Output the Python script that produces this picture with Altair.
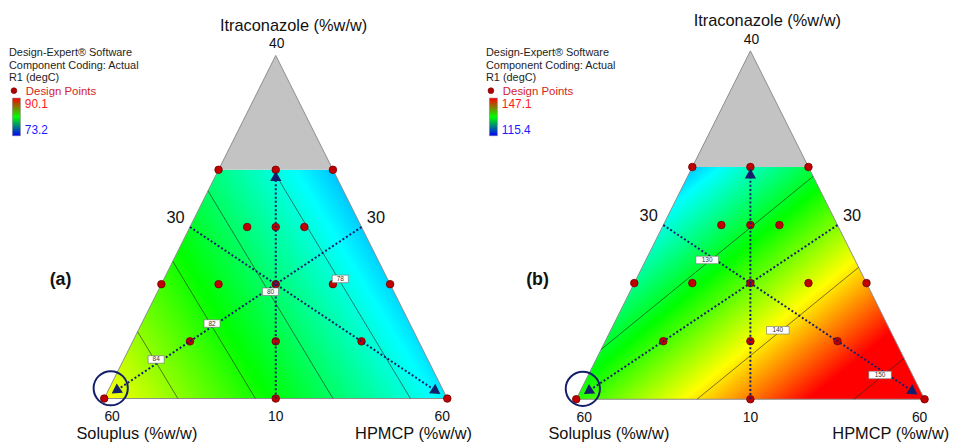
import altair as alt
import numpy as np
import pandas as pd

# ------------------------------------------------------------------ data
PANELS = ["(a)", "(b)"]
COMPONENT_LOW = [30, 30, 10]          # Soluplus, HPMCP, Itraconazole (%w/w)
ITRA_LIMIT = 30                       # upper constraint -> grey region above it

SOLUPLUS = [60, 30, 45, 40, 35, 30, 40, 37.5, 35, 50, 45, 40, 35, 30, 50, 42.5, 35]
HPMCP = [30, 60, 45, 30, 35, 40, 35, 37.5, 40, 30, 35, 40, 45, 50, 35, 42.5, 50]
ITRACONAZOLE = [10, 10, 10, 30, 30, 30, 25, 25, 25, 20, 20, 20, 20, 20, 15, 15, 15]

# predicted R1 (degC) of the linear mixture surface at the pseudo vertices (Soluplus, HPMCP, Itraconazole)
R1_AT_VERTICES = {"(a)": [85.9, 77.05, 76.15], "(b)": [132.3, 154.5, 116.2]}
CONTOUR_LEVELS = {"(a)": [84, 82, 80, 78], "(b)": [130, 140, 150]}
R1_RANGE = {"(a)": [73.2, 90.1], "(b)": [115.4, 147.1]}

LEGEND_LINES = ["Design-Expert® Software", "Component Coding: Actual", "R1 (degC)"]
LEGEND_POINTS = "Design Points"
AXIS_TITLES = ["Soluplus (%w/w)", "HPMCP (%w/w)", "Itraconazole (%w/w)"]
VERTEX_TICKS = ["60", "60", "40"]
BASE_TICK = "10"
SIDE_TICK = "30"

# ------------------------------------------------------------------ layout (page pixel frame)
FRAME = {
    "(a)": {"BL": (105.0, 400.0), "BR": (451.0, 400.0), "AP": (278.0, 54.0), "legend_x": 9.0, "tag": (61.0, 281.0)},
    "(b)": {"BL": (581.0, 400.7), "BR": (932.3, 400.7), "AP": (756.65, 49.4), "legend_x": 490.0, "tag": (542.0, 281.0)},
}
LABEL_FRAC = {"(a)": [0.54, 0.525, 0.5, 0.51], "(b)": [0.5, 0.5, 0.52]}
# pseudo-component traces: start, end, arrow position (fraction of the way)
TRACES = [((0.5, 0.5, 0.0), (1 / 6, 1 / 6, 2 / 3), 0.972),
          ((0.5, 0.0, 0.5), (0.0, 1.0, 0.0), 0.957),
          ((0.0, 0.5, 0.5), (1.0, 0.0, 0.0), 0.955)]
CIRCLE_AT = (0.966, 0.004, 0.03)

FONT = "Liberation Sans"
NAVY = "#141f6b"
CMAP = [(0, 0, 255), (0, 255, 255), (0, 255, 0), (255, 255, 0), (255, 0, 0)]

XS = alt.Scale(domain=[8, 965], nice=False, zero=False)
YS = alt.Scale(domain=[444, 8], nice=False, zero=False)


def X(f):
    return alt.X(f"{f}:Q", scale=XS, axis=None)


def Y(f):
    return alt.Y(f"{f}:Q", scale=YS, axis=None)


R = 100 - sum(COMPONENT_LOW)
AMAX = (ITRA_LIMIT - COMPONENT_LOW[2]) / R


def to_xy(panel, p):
    f = FRAME[panel]
    s, h, a = p
    return (s * f["BL"][0] + h * f["BR"][0] + a * f["AP"][0],
            s * f["BL"][1] + h * f["BR"][1] + a * f["AP"][1])


def kscale(panel):
    f = FRAME[panel]
    return (f["BR"][0] - f["BL"][0]) / 346.0


def cmap(t):
    t = min(max(t, 0.0), 1.0) * 4
    i = min(int(t), 3)
    fr = t - i
    c = [round(CMAP[i][k] + (CMAP[i + 1][k] - CMAP[i][k]) * fr) for k in range(3)]
    return "#%02x%02x%02x" % tuple(c)


CORNERS = [(1, 0, 0), (0, 1, 0), (0, 1 - AMAX, AMAX), (1 - AMAX, 0, AMAX)]


def surface_fill(panel):
    coef = R1_AT_VERTICES[panel]
    lo, hi = R1_RANGE[panel]
    pts = np.array([to_xy(panel, c) for c in CORNERS])
    x0, y0 = pts.min(0)
    x1, y1 = pts.max(0)
    W, H = x1 - x0, y1 - y0
    M = np.array([[1.0, *to_xy(panel, v)] for v in [(1, 0, 0), (0, 1, 0), (0, 0, 1)]])
    c0, cx, cy = np.linalg.solve(M, np.array(coef, float))
    gu, gv = cx * W, cy * H
    n = float(np.hypot(gu, gv))
    du, dv = gu / n, gv / n
    proj = [du * u + dv * v for u in (0, 1) for v in (0, 1)]
    pmin, pmax = min(proj), max(proj)
    v00 = c0 + cx * x0 + cy * y0
    vmin, vmax = v00 + n * pmin, v00 + n * pmax
    offs = {0.0, 1.0}
    for k in range(5):
        vk = lo + k / 4 * (hi - lo)
        o = (vk - vmin) / (vmax - vmin)
        if 0 < o < 1:
            offs.add(float(o))
    stops = [alt.GradientStop(offset=float(o), color=cmap((vmin + o * (vmax - vmin) - lo) / (hi - lo)))
             for o in sorted(offs)]
    return alt.LinearGradient(gradient="linear", stops=stops,
                              x1=float(pmin * du), y1=float(pmin * dv),
                              x2=float(pmax * du), y2=float(pmax * dv))


def value(panel, p):
    return float(np.dot(R1_AT_VERTICES[panel], p))


layers = []

# ---------------- response surface (linear gradient) + grey infeasible region
for panel in PANELS:
    bl, br = to_xy(panel, CORNERS[0]), to_xy(panel, CORNERS[1])
    tr, tl = to_xy(panel, CORNERS[2]), to_xy(panel, CORNERS[3])
    ap = to_xy(panel, (0, 0, 1))
    trap = pd.DataFrame({"y": [bl[1], tl[1]], "x": [bl[0], tl[0]], "x2": [br[0], tr[0]]})
    layers.append(alt.Chart(trap).mark_area(orient="horizontal", fill=surface_fill(panel), opacity=1)
                  .encode(y=Y("y"), x=X("x"), x2=alt.X2("x2")))
    grey = pd.DataFrame({"y": [tl[1], ap[1]], "x": [tl[0], ap[0]], "x2": [tr[0], ap[0]]})
    layers.append(alt.Chart(grey).mark_area(orient="horizontal", fill="#c3c3c3", opacity=1)
                  .encode(y=Y("y"), x=X("x"), x2=alt.X2("x2")))

# ---------------- triangle outline
rows = []
for panel in PANELS:
    for i, v in enumerate([(1, 0, 0), (0, 1, 0), (0, 0, 1), (1, 0, 0)]):
        x, y = to_xy(panel, v)
        rows.append({"panel": panel, "i": i, "x": x, "y": y})
layers.append(alt.Chart(pd.DataFrame(rows)).mark_line(color="#8c8c8c", strokeWidth=1)
              .encode(x=X("x"), y=Y("y"), detail="panel:N", order="i:Q"))

# ---------------- contour lines and their labels
crows, lrows = [], []
for panel in PANELS:
    for lev, frac in zip(CONTOUR_LEVELS[panel], LABEL_FRAC[panel]):
        pts = []
        for j in range(4):
            P, Q = CORNERS[j], CORNERS[(j + 1) % 4]
            vp, vq = value(panel, P), value(panel, Q)
            if (vp - lev) * (vq - lev) < 0:
                t = (lev - vp) / (vq - vp)
                pts.append(to_xy(panel, tuple(P[k] + t * (Q[k] - P[k]) for k in range(3))))
        pts.sort(key=lambda q: -q[1])
        (xa, ya), (xb, yb) = pts[0], pts[1]
        crows.append({"x": xa, "y": ya, "x2": xb, "y2": yb})
        lx, ly = xa + frac * (xb - xa), ya + frac * (yb - ya) - 3.0
        hw = 3.3 * len(str(lev)) + 1.5
        lrows.append({"x": lx - hw, "x2": lx + hw, "y": ly - 3.8, "y2": ly + 3.8,
                      "cx": lx, "cy": ly, "label": str(lev)})
layers.append(alt.Chart(pd.DataFrame(crows)).mark_rule(color="#222222", strokeWidth=0.7, opacity=0.85)
              .encode(x=X("x"), y=Y("y"), x2=alt.X2("x2"), y2=alt.Y2("y2")))

# ---------------- design points
drows = []
for panel in PANELS:
    for s_, h_, i_ in zip(SOLUPLUS, HPMCP, ITRACONAZOLE):
        p = ((s_ - COMPONENT_LOW[0]) / R, (h_ - COMPONENT_LOW[1]) / R, (i_ - COMPONENT_LOW[2]) / R)
        x, y = to_xy(panel, p)
        drows.append({"x": x, "y": y})
layers.append(alt.Chart(pd.DataFrame(drows)).mark_point(shape="circle", filled=True, size=58, fill="#c00000",
                                                       stroke="#6e0000", strokeWidth=0.8, opacity=1)
              .encode(x=X("x"), y=Y("y")))

# ---------------- trace lines, arrows, circle
trows, arows, circ = [], [], []
for panel in PANELS:
    for start, end, fa in TRACES:
        xs_, ys_ = to_xy(panel, start)
        xe, ye = to_xy(panel, end)
        xa, ya = xs_ + fa * (xe - xs_), ys_ + fa * (ye - ys_)
        trows.append({"x": xs_, "y": ys_, "x2": xa, "y2": ya})
        ang = (np.degrees(np.arctan2(ye - ys_, xe - xs_)) + 90) % 360
        arows.append({"x": xa, "y": ya, "ang": float(ang)})
    cx_, cy_ = to_xy(panel, CIRCLE_AT)
    circ.append({"x": cx_, "y": cy_})
layers.append(alt.Chart(pd.DataFrame(trows)).mark_rule(color=NAVY, strokeWidth=2, strokeDash=[2, 2.2])
              .encode(x=X("x"), y=Y("y"), x2=alt.X2("x2"), y2=alt.Y2("y2")))
layers.append(alt.Chart(pd.DataFrame(lrows)).mark_rect(fill="white", stroke="#6e6e6e", strokeWidth=0.6)
              .encode(x=X("x"), x2=alt.X2("x2"), y=Y("y"), y2=alt.Y2("y2")))
layers.append(alt.Chart(pd.DataFrame(lrows)).mark_text(font=FONT, fontSize=6.5, color="#333333",
                                                      align="center", baseline="middle")
              .encode(x=X("cx"), y=Y("cy"), text="label:N"))
layers.append(alt.Chart(pd.DataFrame(arows)).mark_point(shape="triangle-up", filled=True, size=130,
                                                       color=NAVY, opacity=1)
              .encode(x=X("x"), y=Y("y"), angle=alt.Angle("ang:Q", scale=None)))
layers.append(alt.Chart(pd.DataFrame(circ)).mark_point(shape="circle", filled=False, size=1190,
                                                      color=NAVY, strokeWidth=2, opacity=1)
              .encode(x=X("x"), y=Y("y")))

# ---------------- legends (Design-Expert block)
leg_txt, leg_pts, leg_dot, bars, vmax_t, vmin_t = [], [], [], [], [], []
for panel in PANELS:
    x0 = FRAME[panel]["legend_x"]
    for k, line in enumerate(LEGEND_LINES):
        leg_txt.append({"x": x0, "y": 55.0 + 12.5 * k, "t": line})
    leg_pts.append({"x": x0 + 17, "y": 93.5, "t": LEGEND_POINTS})
    leg_dot.append({"x": x0 + 5, "y": 89.5})
    bars.append({"x": x0 + 3.5, "x2": x0 + 11.5, "y": 97.0, "y2": 135.0})
    vmax_t.append({"x": x0 + 16, "y": 107.0, "t": f"{R1_RANGE[panel][1]:.1f}"})
    vmin_t.append({"x": x0 + 16, "y": 133.5, "t": f"{R1_RANGE[panel][0]:.1f}"})

TXT = dict(font=FONT, baseline="alphabetic", align="left")
layers.append(alt.Chart(pd.DataFrame(leg_txt)).mark_text(fontSize=11, color="#1e1e1e", **TXT)
              .encode(x=X("x"), y=Y("y"), text="t:N"))
layers.append(alt.Chart(pd.DataFrame(leg_pts)).mark_text(fontSize=11.5, color="#d21e1e", **TXT)
              .encode(x=X("x"), y=Y("y"), text="t:N"))
layers.append(alt.Chart(pd.DataFrame(leg_dot)).mark_point(shape="circle", filled=True, size=34, fill="#b00000",
                                                         stroke="#6e0000", strokeWidth=0.6, opacity=1)
              .encode(x=X("x"), y=Y("y")))
bar_grad = alt.LinearGradient(gradient="linear", x1=0, y1=0, x2=0, y2=1,
                              stops=[alt.GradientStop(offset=0, color="#ff0000"),
                                     alt.GradientStop(offset=0.5, color="#00ff00"),
                                     alt.GradientStop(offset=1, color="#0000ff")])
layers.append(alt.Chart(pd.DataFrame(bars)).mark_rect(fill=bar_grad, stroke="#777777", strokeWidth=0.5)
              .encode(x=X("x"), x2=alt.X2("x2"), y=Y("y"), y2=alt.Y2("y2")))
layers.append(alt.Chart(pd.DataFrame(vmax_t)).mark_text(fontSize=12, color="#ff1a1a", **TXT)
              .encode(x=X("x"), y=Y("y"), text="t:N"))
layers.append(alt.Chart(pd.DataFrame(vmin_t)).mark_text(fontSize=12, color="#1a1aff", **TXT)
              .encode(x=X("x"), y=Y("y"), text="t:N"))

# ---------------- axis texts around each triangle
big_left, ticks_c, side_c, tags = [], [], [], []
for panel in PANELS:
    f = FRAME[panel]
    k = kscale(panel)
    (blx, bly), (brx, bry), (apx, apy) = f["BL"], f["BR"], f["AP"]
    big_left.append({"x": apx - 56.3 * k, "y": apy - 25.0, "t": AXIS_TITLES[2]})
    big_left.append({"x": blx - 28.0, "y": bly + 40.5, "t": AXIS_TITLES[0]})
    big_left.append({"x": brx - 93.0, "y": bry + 40.5, "t": AXIS_TITLES[1]})
    ticks_c.append({"x": apx + 1.0, "y": apy - 7.3, "t": VERTEX_TICKS[2]})
    ticks_c.append({"x": blx + 8.0, "y": bly + 23.0, "t": VERTEX_TICKS[0]})
    ticks_c.append({"x": (blx + brx) / 2, "y": bly + 23.0, "t": BASE_TICK})
    ticks_c.append({"x": brx - 5.0, "y": bry + 23.0, "t": VERTEX_TICKS[1]})
    side_c.append({"x": blx + 72.0 * k, "y": bly - 182.0 * k, "t": SIDE_TICK})
    side_c.append({"x": brx - 72.0 * k, "y": bry - 182.0 * k, "t": SIDE_TICK})
    tags.append({"x": f["tag"][0], "y": f["tag"][1], "t": panel})

layers.append(alt.Chart(pd.DataFrame(big_left)).mark_text(fontSize=16.5, color="#111111", **TXT)
              .encode(x=X("x"), y=Y("y"), text="t:N"))
layers.append(alt.Chart(pd.DataFrame(ticks_c)).mark_text(font=FONT, fontSize=14, color="#111111",
                                                        align="center", baseline="alphabetic")
              .encode(x=X("x"), y=Y("y"), text="t:N"))
layers.append(alt.Chart(pd.DataFrame(side_c)).mark_text(font=FONT, fontSize=16.5, color="#111111", align="center",
                                                       baseline="middle")
              .encode(x=X("x"), y=Y("y"), text="t:N"))
layers.append(alt.Chart(pd.DataFrame(tags)).mark_text(font=FONT, fontSize=18, fontWeight="bold", color="#111111",
                                                     align="center", baseline="middle")
              .encode(x=X("x"), y=Y("y"), text="t:N"))

chart = (alt.layer(*layers)
         .properties(width=957, height=436, padding=0, background="white",
                     autosize=alt.AutoSizeParams(type="none"))
         .configure_view(stroke=None))

chart.save("out.html", embed_options={"renderer": "svg", "actions": False})
